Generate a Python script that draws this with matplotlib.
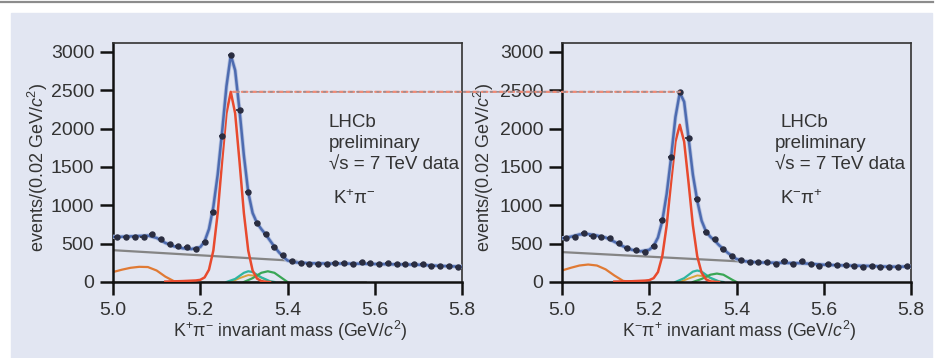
import numpy as np
import matplotlib
matplotlib.use("Agg")
import matplotlib.pyplot as plt
from matplotlib.patches import Rectangle, ConnectionPatch
from matplotlib.lines import Line2D

plt.rcParams['font.family'] = ['Liberation Sans', 'DejaVu Sans']
plt.rcParams['mathtext.fontset'] = 'custom'
plt.rcParams['mathtext.rm'] = 'Liberation Sans'
plt.rcParams['mathtext.it'] = 'Liberation Sans:italic'

# bin centres (0.02 GeV bins)
mass = [5.01, 5.03, 5.05, 5.07, 5.09, 5.11, 5.13, 5.15, 5.17, 5.19,
        5.21, 5.23, 5.25, 5.27, 5.29, 5.31, 5.33, 5.35, 5.37, 5.39,
        5.41, 5.43, 5.45, 5.47, 5.49, 5.51, 5.53, 5.55, 5.57, 5.59,
        5.61, 5.63, 5.65, 5.67, 5.69, 5.71, 5.73, 5.75, 5.77, 5.79]

# K+pi- data
kp_counts = [590, 590, 590, 590, 627, 560, 500, 470, 450, 430,
             520, 910, 1900, 2960, 2240, 1170, 770, 620, 460, 350,
             270, 245, 235, 240, 230, 250, 250, 235, 260, 250,
             240, 245, 230, 240, 240, 230, 215, 210, 205, 200]
# K-pi+ data
km_counts = [578, 590, 635, 600, 590, 570, 510, 440, 420, 385,
             470, 810, 1630, 2480, 1880, 1080, 650, 560, 430, 340,
             290, 265, 260, 255, 230, 280, 240, 275, 230, 210,
             230, 220, 220, 215, 200, 215, 200, 190, 200, 210]

# total fit curves
fit_x = [5.00, 5.02, 5.04, 5.06, 5.08, 5.10, 5.12, 5.14, 5.16, 5.18,
         5.20, 5.21, 5.22, 5.23, 5.24, 5.25, 5.26, 5.27, 5.28, 5.29,
         5.30, 5.31, 5.32, 5.33, 5.34, 5.35, 5.36, 5.37, 5.38, 5.39,
         5.40, 5.42, 5.45, 5.50, 5.55, 5.60, 5.65, 5.70, 5.75, 5.80]
kp_fit = [590, 590, 595, 600, 605, 575, 510, 465, 440, 430,
          455, 530, 690, 980, 1400, 1950, 2550, 2960, 2760, 2240,
          1650, 1170, 900, 770, 690, 620, 540, 460, 390, 330,
          280, 255, 245, 240, 240, 235, 230, 225, 210, 200]
km_fit = [570, 590, 620, 625, 605, 580, 525, 465, 420, 400,
          420, 470, 580, 800, 1150, 1620, 2150, 2470, 2350, 1880,
          1400, 1060, 800, 660, 590, 540, 480, 430, 380, 340,
          300, 270, 255, 250, 245, 225, 215, 210, 200, 200]

# B0 signal component
sig_x = [5.12, 5.16, 5.19, 5.20, 5.21, 5.22, 5.23, 5.24, 5.25, 5.26, 5.27,
         5.28, 5.29, 5.30, 5.31, 5.32, 5.33, 5.34, 5.35, 5.36]
kp_sig = [5, 12, 20, 28, 60, 160, 410, 900, 1570, 2200, 2480,
          2200, 1570, 900, 410, 150, 45, 12, 3, 0]
km_sig = [5, 10, 18, 24, 50, 130, 340, 740, 1300, 1830, 2050,
          1830, 1300, 740, 335, 120, 35, 8, 2, 0]

# combinatorial background
bkg_x = [5.0, 5.42]
kp_bkg = [415, 275]
km_bkg = [390, 265]

# partially reconstructed background
prt_x = [5.00, 5.02, 5.04, 5.06, 5.08, 5.10, 5.12, 5.14, 5.16]
kp_prt = [130, 160, 185, 198, 195, 150, 70, 10, 0]
km_prt = [150, 185, 215, 228, 215, 165, 85, 15, 0]

# misidentified two-body backgrounds
g1_x = [5.26, 5.28, 5.30, 5.31, 5.32, 5.34, 5.36, 5.37]
kp_g1 = [0, 40, 120, 140, 130, 60, 10, 0]
km_g1 = [0, 50, 135, 150, 135, 55, 8, 0]
g2_x = [5.30, 5.32, 5.34, 5.355, 5.37, 5.39, 5.40]
kp_g2 = [0, 50, 120, 140, 120, 40, 0]
km_g2 = [0, 40, 95, 110, 95, 30, 0]
y_x = [5.27, 5.29, 5.31, 5.33, 5.35, 5.36]
kp_y = [0, 50, 90, 80, 30, 0]
km_y = [0, 45, 85, 75, 25, 0]

fig = plt.figure(figsize=(9.38, 3.58), dpi=100)
fig.add_artist(Rectangle((11 / 938, 0), 921 / 938, 345 / 358, transform=fig.transFigure,
                         color='#e2e6f2', zorder=0))
fig.add_artist(Line2D([0, 933 / 938], [0.994, 0.994], transform=fig.transFigure,
                      color='#8c8c8c', lw=1.6))

ax1 = fig.add_axes([113 / 938, 76 / 358, 349 / 938, 239 / 358])
ax2 = fig.add_axes([562 / 938, 76 / 358, 349 / 938, 239 / 358])

panels = [
    (ax1, kp_counts, kp_fit, kp_sig, kp_bkg, kp_prt, kp_g1, kp_g2, kp_y,
     'K$^{+}$π$^{-}$', 'K$^{+}$π$^{-}$ invariant mass (GeV/$c^{2}$)', -0.18, 5.495, 5.495, 5.505),
    (ax2, km_counts, km_fit, km_sig, km_bkg, km_prt, km_g1, km_g2, km_y,
     'K$^{-}$π$^{+}$', 'K$^{-}$π$^{+}$ invariant mass (GeV/$c^{2}$)', -0.19, 5.502, 5.488, 5.5),
]

for ax, counts, fit, sig, bkg, prt, g1, g2, yel, tag, xlab, ylx, x_lhcb, x_txt, x_tag in panels:
    ax.set_facecolor('none')
    ax.plot(bkg_x, bkg, color='#858585', lw=1.6, zorder=2)
    ax.plot(prt_x, prt, color='#e07a34', lw=1.6, zorder=2)
    ax.plot(y_x, yel, color='#d9a23c', lw=1.4, zorder=2)
    ax.plot(g1_x, g1, color='#2fb5a0', lw=1.6, zorder=2)
    ax.plot(g2_x, g2, color='#3aa655', lw=1.6, zorder=2)
    ax.plot(sig_x, sig, color='#e84a2e', lw=1.8, zorder=3)
    ax.plot(fit_x, fit, color='#b5c2e0', lw=3.0, zorder=4, solid_capstyle='round')
    ax.plot(fit_x, fit, color='#4d6bb0', lw=1.8, zorder=4)
    ax.errorbar(mass, counts, xerr=0.007, fmt='o', ms=3.6, color='#2a2d40',
                ecolor='#2a2d40', elinewidth=1.2, capsize=0, zorder=5)

    ax.set_xlim(5.0, 5.8)
    ax.set_ylim(0, 3117)
    ax.set_xticks([5.0, 5.2, 5.4, 5.6, 5.8])
    ax.set_xticklabels(['5.0', '5.2', '5.4', '5.6', '5.8'])
    ax.set_yticks([0, 500, 1000, 1500, 2000, 2500, 3000])
    ax.tick_params(axis='both', direction='out', length=9.5, width=1.8,
                   labelsize=14, colors='#111111', labelcolor='#333333')
    ax.tick_params(axis='y', pad=4)
    ax.tick_params(axis='x', pad=5)
    for side in ['left', 'bottom']:
        ax.spines[side].set_linewidth(1.8)
        ax.spines[side].set_color('#111111')
    for side in ['top', 'right']:
        ax.spines[side].set_linewidth(1.2)
        ax.spines[side].set_color('#333333')

    ax.set_xlabel(xlab, fontsize=12.8, color='#333333')
    ax.xaxis.set_label_coords(0.507, -0.155)
    ax.set_ylabel('events/(0.02 GeV/$c^{2}$)', fontsize=13, color='#333333')
    ax.yaxis.set_label_coords(ylx, 0.48)

    ax.text(x_lhcb, 2020, 'LHCb', fontsize=13.5, color='#333333', va='baseline', ha='left')
    ax.text(x_txt, 1750, 'preliminary', fontsize=13.5, color='#333333', va='baseline', ha='left')
    ax.text(x_txt, 1470, '√s = 7 TeV data', fontsize=13.5, color='#333333', va='baseline', ha='left')
    ax.text(x_tag, 1017, tag, fontsize=13.5, color='#333333', va='baseline', ha='left')

ax1.plot([5.0, 5.58], [0, 0], color='#9a9a9a', lw=1.2, zorder=1, clip_on=False)

# dotted guide joining the two signal peaks
for style, col, lw in [((0, (2.5, 1.5)), '#ef8a76', 1.6), ((1.5, (1, 3)), '#9a8f94', 1.2)]:
    con = ConnectionPatch(xyA=(5.275, 2480), coordsA=ax1.transData,
                          xyB=(5.27, 2480), coordsB=ax2.transData,
                          color=col, lw=lw, linestyle=style, zorder=6)
    fig.add_artist(con)

fig.savefig('out.png', dpi=100)
